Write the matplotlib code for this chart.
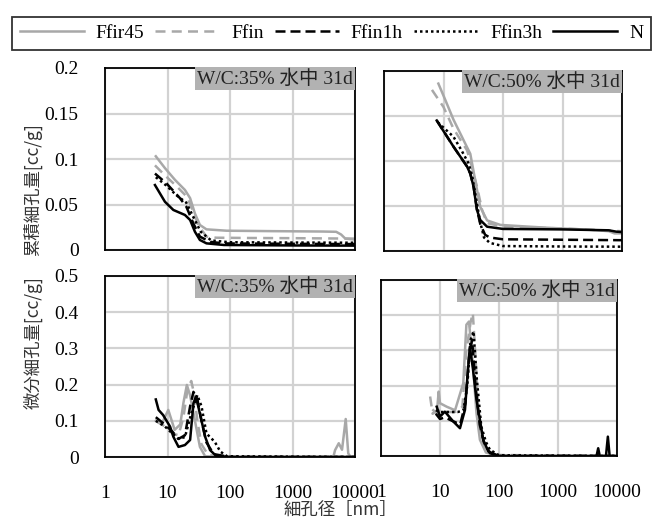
import matplotlib
matplotlib.use("Agg")
import matplotlib.pyplot as plt

# ---------------- data ----------------
series_names = ["Ffir45", "Ffin", "Ffin1h", "Ffin3h", "N"]
panel_titles = ["W/C:35% 水中 31d", "W/C:50% 水中 31d", "W/C:35% 水中 31d", "W/C:50% 水中 31d"]
x_ticks = [1, 10, 100, 1000, 10000]
x_ticklabels = ["1", "10", "100", "1000", "10000"]
cum_yticks = [0, 0.05, 0.1, 0.15, 0.2]
cum_yticklabels = ["0", "0.05", "0.1", "0.15", "0.2"]
diff_yticks = [0, 0.1, 0.2, 0.3, 0.4, 0.5]
diff_yticklabels = ["0", "0.1", "0.2", "0.3", "0.4", "0.5"]

# cumulative, W/C 35%
c35_ffir45_d = [6.5, 9.1, 13.2, 19, 23, 27.5, 33, 42, 88, 500, 3000, 5000, 6000, 7000, 10000]
c35_ffir45_v = [0.103, 0.090, 0.077, 0.066, 0.057, 0.040, 0.0275, 0.0227, 0.0212, 0.0207, 0.0203, 0.020, 0.017, 0.0125, 0.0115]
c35_ffin_d = [6.3, 9.1, 14, 20.4, 26, 31, 42, 60, 200, 1000, 10000]
c35_ffin_v = [0.093, 0.082, 0.070, 0.0586, 0.042, 0.0275, 0.0147, 0.0135, 0.0132, 0.013, 0.0125]
c35_ffin1h_d = [6.3, 9.7, 15.8, 20, 26, 33, 48, 80, 1000, 10000]
c35_ffin1h_v = [0.084, 0.073, 0.057, 0.0476, 0.029, 0.0147, 0.009, 0.0072, 0.0068, 0.0065]
c35_ffin3h_d = [6.5, 9.5, 14, 20, 26, 34, 50, 100, 1000, 10000]
c35_ffin3h_v = [0.080, 0.071, 0.060, 0.052, 0.036, 0.020, 0.0105, 0.0085, 0.0082, 0.008]
c35_n_d = [6.3, 9.1, 12.4, 19, 23, 27.5, 33, 42, 80, 1000, 10000]
c35_n_v = [0.0714, 0.053, 0.044, 0.0385, 0.033, 0.020, 0.011, 0.0073, 0.0055, 0.005, 0.0048]

# cumulative, W/C 50%
c50_ffir45_d = [8.2, 10.7, 14.7, 21.8, 28.2, 34, 41.5, 54, 90, 500, 3000, 6000, 7500, 10000]
c50_ffir45_v = [0.186, 0.168, 0.146, 0.123, 0.108, 0.079, 0.049, 0.034, 0.029, 0.026, 0.0235, 0.022, 0.0195, 0.0195]
c50_ffin_d = [6.4, 10, 14.7, 24.8, 28, 36.5, 44.5, 54, 100, 1000, 10000]
c50_ffin_v = [0.179, 0.160, 0.136, 0.112, 0.101, 0.0715, 0.0456, 0.031, 0.027, 0.025, 0.022]
c50_ffin1h_d = [7.7, 14.7, 24.8, 28.2, 32, 36.5, 41.5, 50, 60, 100, 1000, 10000]
c50_ffin1h_v = [0.145, 0.116, 0.094, 0.086, 0.0715, 0.046, 0.030, 0.018, 0.015, 0.013, 0.0125, 0.012]
c50_ffin3h_d = [8, 14.7, 20, 26, 30, 35, 41, 48, 60, 100, 1000, 10000]
c50_ffin3h_v = [0.143, 0.127, 0.112, 0.098, 0.085, 0.060, 0.033, 0.015, 0.009, 0.0055, 0.005, 0.0048]
c50_n_d = [7.7, 14.7, 24.8, 28.2, 32, 36.5, 41.5, 54, 100, 1000, 6000, 8000, 10000]
c50_n_v = [0.145, 0.116, 0.094, 0.086, 0.0715, 0.0456, 0.0344, 0.027, 0.0245, 0.024, 0.023, 0.0215, 0.021]

# differential, W/C 35%
d35_ffir45_d = [6.5, 8, 10.3, 13, 16, 18, 20.4, 23, 27.5, 33, 40, 100, 4500, 4800, 5500, 6200, 7100, 7800, 8500, 10000]
d35_ffir45_v = [0.10, 0.09, 0.13, 0.075, 0.09, 0.15, 0.199, 0.17, 0.10, 0.028, 0.002, 0, 0, 0.019, 0.038, 0.02, 0.105, 0.01, 0, 0]
d35_ffin_d = [6.5, 9, 12, 15, 18, 21, 24, 27, 30, 35, 45, 100, 10000]
d35_ffin_v = [0.10, 0.085, 0.065, 0.06, 0.11, 0.19, 0.21, 0.17, 0.10, 0.035, 0.005, 0, 0]
d35_ffin1h_d = [6.5, 9, 12, 15, 19, 23, 26, 30, 35, 42, 55, 100, 10000]
d35_ffin1h_v = [0.11, 0.09, 0.07, 0.05, 0.06, 0.14, 0.18, 0.16, 0.10, 0.04, 0.008, 0, 0]
d35_ffin3h_d = [6.5, 9, 12, 15, 19, 24, 30, 35, 42, 57, 70, 90, 10000]
d35_ffin3h_v = [0.10, 0.085, 0.065, 0.05, 0.055, 0.12, 0.171, 0.14, 0.065, 0.042, 0.015, 0.002, 0]
d35_n_d = [6.5, 7.2, 8.5, 11, 12.4, 15, 19, 23, 26, 28.5, 33, 40, 48, 60, 100, 10000]
d35_n_v = [0.159, 0.13, 0.116, 0.084, 0.056, 0.028, 0.033, 0.047, 0.148, 0.167, 0.12, 0.056, 0.019, 0.003, 0.0, 0.0]

# differential, W/C 50%
d50_ffir45_d = [7.7, 8.8, 9.5, 10, 13, 18, 24.8, 28, 31, 36.4, 41.5, 47.5, 60, 100, 10000]
d50_ffir45_v = [0.13, 0.12, 0.183, 0.15, 0.14, 0.13, 0.207, 0.373, 0.382, 0.254, 0.122, 0.046, 0.01, 0, 0]
d50_ffin_d = [6.8, 7.5, 9, 12, 18, 24, 28, 33, 36, 40, 45, 55, 80, 10000]
d50_ffin_v = [0.169, 0.12, 0.13, 0.125, 0.125, 0.14, 0.30, 0.38, 0.406, 0.28, 0.12, 0.03, 0.003, 0]
d50_ffin1h_d = [8.5, 10, 12, 16, 22, 27, 31, 35, 40, 47, 55, 70, 100, 10000]
d50_ffin1h_v = [0.12, 0.105, 0.11, 0.10, 0.09, 0.15, 0.28, 0.33, 0.20, 0.09, 0.04, 0.008, 0, 0]
d50_ffin3h_d = [8.5, 10, 14, 20, 25, 29, 33, 37, 42, 50, 60, 70, 100, 10000]
d50_ffin3h_v = [0.13, 0.125, 0.125, 0.125, 0.13, 0.20, 0.33, 0.354, 0.22, 0.084, 0.04, 0.018, 0.002, 0]
d50_n_d = [8.8, 10, 12.1, 16.8, 21.8, 26.5, 29, 32, 36, 41.5, 47.5, 54, 66, 100, 4500, 4800, 5100, 6500, 7000, 7500, 10000]
d50_n_v = [0.14, 0.112, 0.126, 0.098, 0.079, 0.131, 0.22, 0.31, 0.25, 0.16, 0.103, 0.046, 0.013, 0, 0, 0.022, 0, 0, 0.055, 0, 0]

panels_data = [
    [(c35_ffir45_d, c35_ffir45_v), (c35_ffin_d, c35_ffin_v), (c35_ffin1h_d, c35_ffin1h_v), (c35_ffin3h_d, c35_ffin3h_v), (c35_n_d, c35_n_v)],
    [(c50_ffir45_d, c50_ffir45_v), (c50_ffin_d, c50_ffin_v), (c50_ffin1h_d, c50_ffin1h_v), (c50_ffin3h_d, c50_ffin3h_v), (c50_n_d, c50_n_v)],
    [(d35_ffir45_d, d35_ffir45_v), (d35_ffin_d, d35_ffin_v), (d35_ffin1h_d, d35_ffin1h_v), (d35_ffin3h_d, d35_ffin3h_v), (d35_n_d, d35_n_v)],
    [(d50_ffir45_d, d50_ffir45_v), (d50_ffin_d, d50_ffin_v), (d50_ffin1h_d, d50_ffin1h_v), (d50_ffin3h_d, d50_ffin3h_v), (d50_n_d, d50_n_v)],
]

# ---------------- style ----------------
GRAY = "#a8a8a8"
styles = [
    dict(color=GRAY, linestyle="-", linewidth=1.8),
    dict(color=GRAY, linestyle=(0, (4, 2.5)), linewidth=1.8),
    dict(color="black", linestyle=(0, (4, 2)), linewidth=1.8),
    dict(color="black", linestyle=(0, (1, 1.2)), linewidth=1.8),
    dict(color="black", linestyle="-", linewidth=1.8),
]
SERIF = ["Liberation Serif", "Noto Sans CJK JP"]
CJK = ["Noto Sans CJK JP", "DejaVu Sans"]
plt.rcParams["font.family"] = SERIF

W, H = 662, 522
fig = plt.figure(figsize=(W / 100, H / 100), dpi=100)

def px_axes(x0, y0, x1, y1):
    return fig.add_axes([x0 / W, 1 - y1 / H, (x1 - x0) / W, (y1 - y0) / H])

axes = [
    px_axes(105, 68, 355, 250),
    px_axes(384, 71, 622, 251),
    px_axes(105, 276, 355, 457),
    px_axes(381, 280, 617, 456),
]

handles = []
for i, ax in enumerate(axes):
    for j, (d, v) in enumerate(panels_data[i]):
        ln, = ax.plot(d, v, label=series_names[j], **styles[j])
        if i == 0:
            handles.append(ln)
    ax.set_xscale("log")
    ax.set_xlim(1, 10000)
    ax.set_xticks(x_ticks)
    ax.minorticks_off()
    if i < 2:
        ax.set_ylim(0, 0.2)
        ax.set_yticks(cum_yticks)
        ax.set_yticklabels(cum_yticklabels)
    else:
        ax.set_ylim(0, 0.5)
        ax.set_yticks(diff_yticks)
        ax.set_yticklabels(diff_yticklabels)
    if i >= 2:
        ax.set_xticklabels(x_ticklabels)
    else:
        ax.set_xticklabels([])
    if i in (1, 3):
        ax.tick_params(axis="y", labelleft=False)
    ax.tick_params(axis="both", length=0, labelsize=14)
    ax.tick_params(axis="y", pad=19)
    ax.tick_params(axis="x", pad=20)
    ax.grid(True, color="#d2d2d2", linewidth=1.6)
    ax.set_axisbelow(True)
    for sp in ax.spines.values():
        sp.set_color("black")
        sp.set_linewidth(1.3)
    ax.text(0.993, 0.992, panel_titles[i], transform=ax.transAxes, ha="right", va="top",
            fontsize=14, family=SERIF, zorder=10, color="#222222",
            bbox=dict(facecolor="#b2b2b2", edgecolor="none", pad=1.5))

fig.text(33 / W, 1 - 190 / H, "累積細孔量[cc/g]", rotation=90, ha="center", va="center",
         fontsize=12.5, family=CJK, color="#333333")
fig.text(33 / W, 1 - 343 / H, "微分細孔量[cc/g]", rotation=90, ha="center", va="center",
         fontsize=12.5, family=CJK, color="#333333")
fig.text(340 / W, 1 - 510 / H, "細孔径［nm］", ha="center", va="center",
         fontsize=12.5, family=CJK, color="#333333")

leg = fig.legend(handles=handles, labels=series_names, loc="lower left",
                 bbox_to_anchor=(12 / W, 1 - 50 / H, 639 / W, 38 / H), mode="expand",
                 ncol=5, borderaxespad=0, fancybox=False, frameon=True,
                 handlelength=3.3, handletextpad=0.6, prop={"family": SERIF, "size": 14})
leg.get_frame().set_edgecolor("black")
leg.get_frame().set_linewidth(1.3)

fig.savefig("out.png", dpi=100)
